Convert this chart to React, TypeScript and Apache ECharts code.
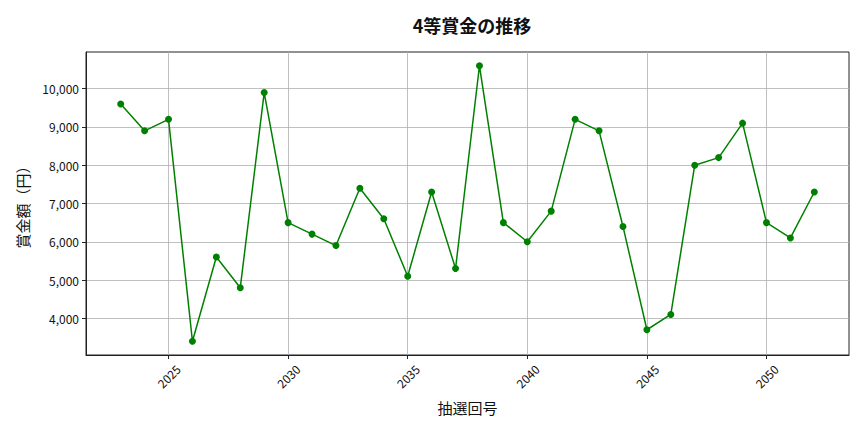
import React, { useEffect, useRef } from "react";
import * as echarts from "echarts";

const drawNumbers: number[] = [
  2023, 2024, 2025, 2026, 2027, 2028, 2029, 2030, 2031, 2032,
  2033, 2034, 2035, 2036, 2037, 2038, 2039, 2040, 2041, 2042,
  2043, 2044, 2045, 2046, 2047, 2048, 2049, 2050, 2051, 2052,
];
const prizeValues: number[] = [
  9600, 8900, 9200, 3400, 5600, 4800, 9900, 6500, 6200, 5900,
  7400, 6600, 5100, 7300, 5300, 10600, 6500, 6000, 6800, 9200,
  8900, 6400, 3700, 4100, 8000, 8200, 9100, 6500, 6100, 7300,
];
const xTicks: number[] = [2025, 2030, 2035, 2040, 2045, 2050];
const yTicks: number[] = [4000, 5000, 6000, 7000, 8000, 9000, 10000];

const FONT = "'Noto Sans CJK JP', 'Noto Sans', sans-serif";

export default function App() {
  const ref = useRef<HTMLDivElement>(null);
  useEffect(() => {
    if (!ref.current) return;
    const chart = echarts.init(ref.current, undefined, { renderer: "svg" });
    const xMin = drawNumbers[0];
    const xMax = drawNumbers[drawNumbers.length - 1];
    const xPad = (xMax - xMin) * 0.05;
    const yLo = Math.min(...prizeValues);
    const yHi = Math.max(...prizeValues);
    const yPad = (yHi - yLo) * 0.05;
    chart.setOption({
      animation: false,
      backgroundColor: "#ffffff",
      textStyle: { fontFamily: FONT },
      title: {
        text: "4等賞金の推移",
        left: 467,
        top: 11,
        textAlign: "center",
        textStyle: { fontFamily: FONT, fontSize: 18, fontWeight: "bold", color: "#111" },
      },
      grid: {
        left: 86,
        right: 15,
        top: 52,
        bottom: 77,
        show: true,
        borderColor: "#222",
        borderWidth: 1,
        backgroundColor: "transparent",
      },
      xAxis: {
        type: "value",
        min: xMin - xPad,
        max: xMax + xPad,
        name: "抽選回号",
        nameLocation: "middle",
        nameGap: 45,
        nameTextStyle: { fontFamily: FONT, fontSize: 15, color: "#111" },
        axisLine: { show: true, lineStyle: { color: "#222", width: 1 } },
        axisTick: {
          show: true,
          length: 4,
          customValues: xTicks,
          lineStyle: { color: "#222" },
        },
        axisLabel: {
          customValues: xTicks,
          rotate: 45,
          align: "center",
          verticalAlign: "middle",
          margin: 21,
          fontFamily: FONT,
          fontSize: 12,
          color: "#111",
          formatter: (v: number) => String(v),
        },
        splitLine: { show: true, lineStyle: { color: "#b0b0b0", width: 0.8 } },
      },
      yAxis: {
        type: "value",
        min: yLo - yPad,
        max: yHi + yPad,
        name: "賞金額（円）",
        nameLocation: "middle",
        nameGap: 56,
        nameTextStyle: { fontFamily: FONT, fontSize: 15, color: "#111" },
        axisLine: { show: true, lineStyle: { color: "#222", width: 1 } },
        axisTick: {
          show: true,
          length: 4,
          customValues: yTicks,
          lineStyle: { color: "#222" },
        },
        axisLabel: {
          customValues: yTicks,
          margin: 7,
          fontFamily: FONT,
          fontSize: 12,
          color: "#111",
          formatter: (v: number) => v.toLocaleString("en-US"),
        },
        splitLine: { show: true, lineStyle: { color: "#b0b0b0", width: 0.8 } },
      },
      series: [
        {
          type: "line",
          data: drawNumbers.map((d, i) => [d, prizeValues[i]]),
          symbol: "circle",
          symbolSize: 7,
          itemStyle: { color: "#008000" },
          lineStyle: { color: "#008000", width: 1.5 },
        },
      ],
    });
    return () => chart.dispose();
  }, []);
  return <div ref={ref} style={{ width: 864, height: 432, position: "absolute", left: 0, top: 0 }} />;
}
